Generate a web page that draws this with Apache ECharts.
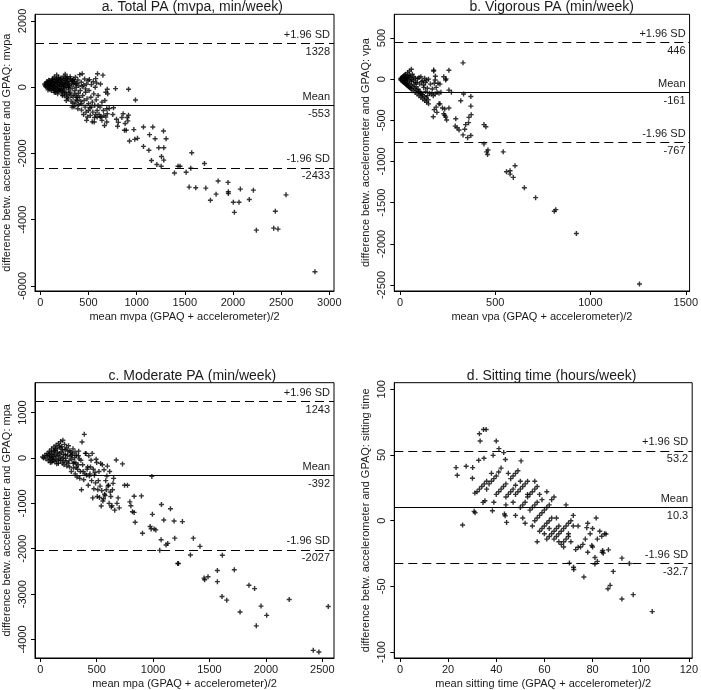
<!DOCTYPE html>
<html><head><meta charset="utf-8">
<script src="https://cdn.jsdelivr.net/npm/echarts@6/dist/echarts.min.js"></script>
<style>html,body{margin:0;padding:0;background:#fff}#c{width:701px;height:690px}</style>
</head><body><div id="c"></div>
<script>
// ---------- data ----------
const titles = ['a. Total PA (mvpa, min/week)','b. Vigorous PA (min/week)','c. Moderate PA (min/week)','d. Sitting time (hours/week)'];
const xNames = ['mean mvpa (GPAQ + accelerometer)/2','mean vpa (GPAQ + accelerometer)/2','mean mpa (GPAQ + accelerometer)/2','mean sitting time (GPAQ + accelerometer)/2'];
const yNames = ['difference betw. accelerometer and GPAQ: mvpa','difference betw. accelerometer and GPAQ: vpa','difference betw. accelerometer and GPAQ: mpa','difference betw. accelerometer and GPAQ: sitting time'];

const totalLimits = [1328, -553, -2433];
const vigLimits = [446, -161, -767];
const modLimits = [1243, -392, -2027];
const sitLimits = [53.2, 10.3, -32.7];
const limitLabels = ['+1.96 SD','Mean','-1.96 SD'];
const limitValueText = [['1328','-553','-2433'],['446','-161','-767'],['1243','-392','-2027'],['53.2','10.3','-32.7']];

const totalXTicks = [0,500,1000,1500,2000,2500,3000];
const totalYTicks = [-6000,-4000,-2000,0,2000];
const vigXTicks = [0,500,1000,1500];
const vigYTicks = [-2500,-2000,-1500,-1000,-500,0,500];
const modXTicks = [0,500,1000,1500,2000,2500];
const modYTicks = [-4000,-3000,-2000,-1000,0,1000];
const sitXTicks = [0,20,40,60,80,100,120];
const sitYTicks = [-100,-50,0,50,100];

const totalPA = [
[45,100],[50,60],[55,20],[60,130],[65,80],[70,0],[75,150],[80,40],[85,110],[90,-30],[95,200],[100,70],[100,-60],[80,-80],[70,170],[88,210],[95,130],
[105,20],[110,150],[115,-100],[120,90],[125,230],[130,-20],[135,180],[140,60],[145,-150],[150,120],[155,0],[160,250],[165,-80],[170,370],[175,140],[180,40],[185,-120],[190,300],[195,200],[200,80],[200,-30],[160,-160],[130,260],[180,-200],[145,310],
[112,60],[122,-40],[138,110],[148,20],[158,170],[168,60],[178,-60],[188,120],[198,-100],[118,180],[152,-60],[172,210],[192,20],[142,-80],[186,250],
[205,150],[210,-100],[215,280],[220,30],[225,-200],[230,200],[235,100],[240,-50],[245,330],[250,-260],[255,60],[260,220],[259,396],[265,-150],[270,140],[275,0],[280,-300],[285,250],[290,90],[295,-80],[300,180],[300,-200],[210,230],[230,-250],[250,150],[270,-400],[290,-350],[240,20],[220,120],[280,310],
[212,70],[228,-120],[238,250],[248,-150],[262,90],[272,-220],[282,170],[292,-10],[218,-60],[252,-20],[268,280],[298,40],
[305,40],[310,-150],[315,260],[320,-420],[325,120],[330,-30],[335,210],[340,-300],[345,80],[350,-589],[355,170],[360,-100],[365,300],[370,-250],[375,0],[380,120],[385,-400],[390,220],[395,-180],[400,50],[330,-600],[360,-480],[390,-650],[310,320],[345,240],
[318,-250],[338,-480],[352,-200],[368,100],[382,-300],[398,-520],[332,180],[372,-380],
[405,-300],[410,380],[415,-100],[428,-690],[425,150],[430,-500],[435,20],[440,-250],[449,-822],[450,60],[455,-400],[460,250],[465,-600],[470,-150],[475,-750],[480,100],[485,-350],[490,-900],[495,200],[500,-500],[435,406],[470,-50],[500,-700],[480,-1000],[420,-420],
[505,-100],[510,230],[515,-620],[520,-850],[525,-300],[530,80],[539,-1045],[540,-450],[545,-750],[550,170],[555,-200],[563,-914],[565,-550],[570,0],[575,-820],[580,-380],[585,130],[590,-700],[594,406],[600,-550],[560,-1050],[600,-250],[590,-900],[530,-600],[575,260],
[610,-820],[622,-893],[625,100],[630,-900],[640,-450],[650,365],[655,-700],[660,-850],[667,-1157],[670,-400],[680,-900],[690,-650],[700,-200],[695,-800],[690,-1050],[715,-640],[640,-1000],[620,-600],[680,-150],[695,-61],
[753,-822],[760,-619],[781,-41],[791,-964],[802,-1177],[810,-1060],[847,-914],[860,-800],[874,-1299],[881,-1096],[892,-1299],[902,-914],[909,-1015],[916,-842],[916,-61],[926,-1624],[971,-1279],[981,-1573],[988,-386],[1009,-1543],
[1071,-1198],[1168,-1198],[1279,-1320],[1306,-1553],[1134,-1431],[1192,-1553],[1230,-1827],[1282,-1827],[1127,-1900],[1258,-2090],[1282,-2200],[1071,-1786],[1154,-2212],[1210,-2334],[1255,-2385],
[1572,-1979],[1562,-2446],[1704,-2304],[1430,-2385],[1451,-2385],[1393,-2588],[1514,-2568],[1545,-3014],[1614,-3035],[1718,-3045],[1846,-2832],[1825,-3228],[1766,-3410],[1949,-2872],[1952,-3157],[1952,-3207],
[2004,-3471],[2063,-3471],[2077,-3075],[2212,-3106],[2170,-3390],[2015,-3776],[2243,-4314],[2440,-3745],[2423,-4253],[2468,-4283],[2551,-3248],[2851,-5570]
];

const vigorousPA = [
[5,-10],[10,-20],[15,-30],[20,-40],[25,-50],[30,-60],[35,-70],[40,-80],[45,-90],[50,-100],[55,-110],[60,-120],[70,-140],[80,-160],[90,-180],[100,-200],[110,-220],[120,-240],[130,-260],[140,-280],[150,-300],
[5,10],[10,20],[15,30],[20,40],[25,50],[30,60],[40,80],[50,100],[60,120],
[5,0],[10,5],[15,-5],[20,10],[25,0],[30,-10],[35,15],[40,0],[50,-20],[60,-30],[70,-10],[80,10],[90,-40],[100,20],[110,30],[120,-20],[130,10],[140,-10],[150,0],[160,-60],
[45,40],[55,20],[65,60],[75,-60],[85,-90],[95,-120],[105,-150],[115,-180],[125,-100],[135,-150],[145,-200],[155,-170],[165,-180],[175,-200],[185,-180],[195,-160],[205,-170],[215,-160],[170,-120],[180,-50],[190,-100],[200,-50],[210,-60],[240,-10],[242,4],[230,30],[186,36],[177,100],[177,110],[185,-10],
[12,-5],[18,15],[22,-20],[28,25],[32,-35],[38,-50],[42,20],[48,-60],[52,45],[58,-75],[62,-5],[68,-90],[72,30],[78,-110],[82,-40],[88,-130],[92,5],[98,-150],[104,-60],[108,-170],[114,-30],[118,-190],[124,-70],[128,-210],[134,-40],[138,-230],[144,-110],[148,-250],
[205,-300],[210,-300],[223,-351],[235,-363],[245,-496],[257,-351],[194,-403],[175,-456],[180,-370],[190,-340],[235,-440],[240,-460],[230,-420],[257,109],[331,198],[257,-133],[270,-160],[334,-181],[319,-262],
[372,-210],[372,-327],[362,-464],[360,-528],[345,-552],[374,-431],[340,-609],[355,-710],[331,-677],[372,-685],[290,-570],[300,-590],[310,-617],[293,-480],
[441,-552],[451,-577],[441,-786],[455,-883],[460,-915],[462,-860],[542,-883],[559,-1125],[578,-1113],[578,-1153],[595,-1193],[604,-1052],[653,-1318],[712,-1439],[810,-1605],[818,-1585],[926,-1875],[1257,-2488]
];

const moderatePA = [
[20,20],[40,60],[60,100],[80,150],[100,200],[120,240],[140,280],[160,320],[180,360],[200,390],
[30,0],[50,-20],[60,50],[70,-60],[80,20],[90,-100],[100,80],[110,-30],[120,150],[130,-80],[140,40],[150,200],[160,-120],[170,100],[180,-50],[190,250],[200,0],[210,-150],[220,180],[230,-90],[240,60],[250,270],[260,-200],[270,120],[280,-30],[290,200],[300,-100],[310,-350],[320,60],[330,-250],[340,150],[350,-450],[360,-50],[370,350],[380,-300],[390,520],[400,100],[410,-380],[420,-200],[430,50],[440,-350],[450,-50],[460,100],[470,-250],[480,-380],[490,-550],[500,-100],[510,-700],[520,-300],[530,-620],[540,-1060],[550,-150],[560,-900],[570,-800],[580,-500],[590,-400],[600,-620],[610,-1000],[620,-750],[630,-1080],[640,-700],[650,-450],[660,-1150],[673,-44],[680,-1000],[690,-880],[700,-1100],[729,-131],[747,-603],[773,-603],
[75,80],[85,-30],[95,130],[105,10],[115,-60],[125,90],[135,200],[145,-130],[155,60],[165,-20],[175,230],[185,130],[195,-110],[205,80],[215,300],[225,-10],[235,-180],[245,150],[255,-60],[265,30],[275,-300],[285,90],[295,-220],[305,10],[315,-110],[325,-420],[335,-150],[345,-20],[355,-300],[365,-700],[375,-150],[385,-480],[395,-350],[405,100],[415,-250],[425,-600],[435,-400],[445,-200],[455,-500],[465,-880],[475,-680],[485,-320],[495,-30],[505,-850],[515,-500],[525,-870],[535,-120],[545,-720],[555,-950],[565,-260],[575,-830],[585,-700],[595,-180],[605,-600],[615,-300],[625,-850],[635,-1050],[645,-560],
[92,40],[102,-90],[118,30],[128,160],[138,-30],[152,120],[162,-60],[172,260],[182,20],[198,180],[208,-60],[222,70],[232,220],[248,-120],[262,160],[278,60],[292,-120],[308,130],[322,-200],[338,50],
[989,-407],[832,-843],[897,-836],[794,-967],[803,-1054],[817,-1185],[832,-1200],[841,-1418],[906,-1658],[974,-1512],[983,-1563],[1009,-1563],[1024,-1585],[994,-1243],[1074,-1025],[1095,-1367],[1154,-1120],[1186,-1389],[1260,-1403],
[1071,-1803],[1059,-2036],[1115,-1919],[1130,-1883],[1192,-1767],[1357,-1767],[1331,-2138],[1416,-1948],[1219,-2327],[1224,-2327],[1614,-2145],[1452,-2647],[1457,-2683],[1487,-2618],[1570,-2480],[1570,-2726],[1720,-2465],[1611,-3054],[1653,-3133],[1771,-3395],[1850,-2806],[1900,-2879],[1957,-3264],[1915,-3700],[2007,-3468],[2207,-3119],[2553,-3272],[2420,-4239],[2470,-4275]
];

const sittingTime = [
[23.3,40.4],[23.8,34.6],[26.0,-3.3],[27.5,41.4],[30.2,40.4],[30.1,32.3],[31.1,21],[30.8,7.1],[31.2,6.0],[32.7,46],[33.0,66.2],[33.3,60.6],[34.7,69.4],[35.8,69.4],[34.9,47.5],[34.5,13.9],[35.3,15.2],[38.4,7.6],[38.7,49.7],[40.0,60.6],[41.1,54.8],[43.1,51.8],[43.8,46.5],[43.4,5.1],[43.7,3.8],[44.3,-1.3],[50.3,45.5],
[32,22],[33,24],[34,26],[35,28],[36,30],
[37,28],[38,30],[39,32],[40,34],[41,37],
[40,20],[41,22],[42,24],[43,26],[44,28],
[44,18],[45,20],[46,22],[47,24],[48,27],
[46,32],[47,34],[48,36],[49,38],
[48,20],[49,22],[50,24],[51,26],[52,28],[53,30],
[50,10],[51,12],[52,14],
[53,18],[54,20],[55,22],[56,24],[57,26],
[54,8],[55,10],[56,12],[57,14],
[56,0],[57,2],[58,4],[59,6],[60,8],[61,10],[62,12],
[58,-8],[59,-6],[60,-4],[61,-2],[62,0],[63,2],
[61,-14],[62,-12],[63,-10],[64,-8],[65,-6],[66,-4],
[64,-14],[65,-12],[66,-10],[67,-8],[68,-6],[69,-4],[70,-2],[71,0],[72,4],
[67,-18],[68,-16],[69,-14],[70,-12],
[36,24],[38,36],[39,14],[42,40],[44,12],[45,36],[47,14],[48,4],[50,30],[51,2],[52,-2],[53,20],[55,-4],[56,30],[57,-16],[58,20],[59,16],[60,-10],[61,22],[62,-6],[63,16],[64,18],[65,2],[66,-16],[68,-20],[69,12],[70,-10],[71,-16],[72,-4],[73,-22],[74,-4],[75,-20],[76,-18],[77,-14],[78,-2],[78,-24],[79,-10],[80,-6],[80,-20],[81,-28],[82,-14],[83,-8],[84,-24],[85,-10],
[76.4,-42.9],[86.4,-51.8],[87.3,-49.2],[88.6,-38.6],[92.2,-28.5],[95.3,-32.6],[92.2,-59.6],[96.9,-56.3],[104.8,-69.2],[70.4,-32.3],[72.1,-35.4],[72.2,-37.1],[74,-20.2],[77.6,-5.3],[81.5,2.0],[79.7,-18.9],[83.8,-11.9],[85.6,-10.1],[84.2,-22.7],[84.5,-24.7],[86.6,-22.2],[81.0,-33.0],[82.0,-31.0]
];

// ---------- layout ----------
const grids = [
  {left:34.7, top:14.3, width:299.3, height:276.7},
  {left:394.3, top:14.3, width:298.7, height:276.7},
  {left:34.7, top:382.7, width:299.3, height:276.6},
  {left:394.3, top:382.7, width:298.7, height:276.6}
];
const xRanges = [[-55,3049],[-29.6,1520],[-47,2604],[-2.36,121.4]];
const yRanges = [[-6151,2202],[-2573,788],[-4408,1658],[-104.5,105.0]];
const xTicks = [totalXTicks, vigXTicks, modXTicks, sitXTicks];
const yTicks = [totalYTicks, vigYTicks, modYTicks, sitYTicks];
const datasets = [totalPA, vigorousPA, moderatePA, sittingTime];
const limits = [totalLimits, vigLimits, modLimits, sitLimits];

const txt = '#1a1a1a';
const font = 'Liberation Sans, Arial, sans-serif';
const plus = 'path://M1.8,0H3.2V1.8H5V3.2H3.2V5H1.8V3.2H0V1.8H1.8Z';
const plain = v => String(v);

const option = {
  animation:false,
  backgroundColor:'#fff',
  textStyle:{fontFamily:font},
  title: titles.map((t,i)=>({
    text:t, left: grids[i].left + grids[i].width/2 + 3, top: grids[i].top - 19, textAlign:'center',
    textStyle:{fontSize:14, fontWeight:'normal', color:txt, fontFamily:font}
  })),
  grid: grids.map(g=>Object.assign({show:true, borderColor:'#000', borderWidth:1, containLabel:false}, g)),
  xAxis: grids.map((g,i)=>({
    type:'value', gridIndex:i, min:xRanges[i][0], max:xRanges[i][1],
    name:xNames[i], nameLocation:'middle', nameGap:20,
    nameTextStyle:{fontSize:11, color:txt, fontFamily:font},
    axisLine:{show:true, onZero:false, lineStyle:{color:'#000', width:1}},
    axisTick:{show:true, inside:false, length:4, customValues:xTicks[i], lineStyle:{color:'#000'}},
    axisLabel:{show:true, customValues:xTicks[i], formatter:plain, margin:6, fontSize:11, color:txt, fontFamily:font, showMinLabel:true, showMaxLabel:true},
    splitLine:{show:false}
  })),
  yAxis: grids.map((g,i)=>({
    type:'value', gridIndex:i, min:yRanges[i][0], max:yRanges[i][1],
    name:yNames[i], nameLocation:'middle', nameGap:23, nameRotate:90,
    nameTextStyle:{fontSize:11, color:txt, fontFamily:font},
    axisLine:{show:true, onZero:false, lineStyle:{color:'#000', width:1}},
    axisTick:{show:true, inside:false, length:4, customValues:yTicks[i], lineStyle:{color:'#000'}},
    axisLabel:{show:true, customValues:yTicks[i], formatter:plain, rotate:90, margin:7, fontSize:11, color:txt, fontFamily:font, showMinLabel:true, showMaxLabel:true},
    splitLine:{show:false}
  })),
  series: datasets.map((d,i)=>({
    type:'scatter', xAxisIndex:i, yAxisIndex:i, data:d,
    symbol:plus, symbolSize:5, itemStyle:{color:'#000'}, silent:true,
    markLine:{
      silent:true, symbol:'none', animation:false,
      data: [0,1,2].flatMap(k=>{
        const ls = {color:'#000', width:1.1, type: k===1 ? 'solid' : [9,5]};
        return [
          {yAxis:limits[i][k], lineStyle:ls,
           label:{show:true, position:'insideEndTop', formatter:limitLabels[k], distance:[4,3], fontSize:11, color:txt, fontFamily:font}},
          {yAxis:limits[i][k], lineStyle:{color:'rgba(0,0,0,0)', width:0.1, type:'solid'},
           label:{show:true, position:'insideEndBottom', formatter:limitValueText[i][k], distance:[4,3], fontSize:11, color:txt, fontFamily:font}}
        ];
      })
    }
  }))
};
const chart = echarts.init(document.getElementById('c'), null, {renderer:'canvas'});
chart.setOption(option);
</script></body></html>
